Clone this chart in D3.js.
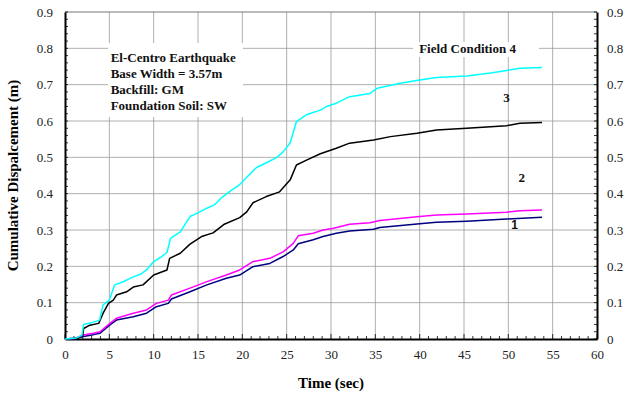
<!DOCTYPE html>
<meta charset="utf-8">
<style>
body { margin: 0; background: #fff; overflow: hidden; }
svg { display: block; }
text { font-family: "Liberation Serif", "Times New Roman", serif; }
.tick text { font-size: 13px; fill: #222; }
.grid line { stroke: #9a9a9a; stroke-width: 0.8; }
.lbl { font-weight: bold; font-size: 13px; fill: #111; }
</style>
<body>
<script src="https://d3js.org/d3.v7.min.js"></script>
<script>

// time (sec) / cumulative displacement (m) for each curve
var cyanT  = [0,1.3,1.9,2.1,3.0,3.9,4.3,5.0,5.6,6.5,7.7,8.5,9.2,10,10.8,11.5,11.9,13,14.1,15,16,16.9,17.7,18.8,19.7,20.5,21.6,22.7,23.9,24.6,25.4,26.1,27.3,28.8,29.5,30.6,32.1,34.4,35.2,37.8,40,41.9,45.3,48,49.8,51.3,53.8];
var cyanV  = [0,0.003,0.01,0.04,0.045,0.052,0.094,0.107,0.149,0.157,0.171,0.178,0.19,0.213,0.225,0.238,0.277,0.295,0.337,0.347,0.36,0.37,0.39,0.41,0.425,0.445,0.472,0.485,0.5,0.515,0.54,0.598,0.618,0.63,0.64,0.649,0.667,0.676,0.69,0.704,0.713,0.72,0.724,0.732,0.739,0.745,0.747];

var blackT = [0,1.5,2.0,2.1,2.8,3.8,4.3,4.9,5.45,5.8,6.95,7.7,8.8,10,11.5,11.8,13,14.1,15.4,16.7,17.9,19.7,20.5,21.2,22.7,24.2,25.4,26.1,27.3,28.8,30.6,32.1,34.8,36.7,39.7,41.9,45.3,49.8,51.3,53.8];
var blackV = [0,0.003,0.01,0.029,0.038,0.043,0.071,0.098,0.107,0.121,0.13,0.143,0.149,0.176,0.19,0.222,0.236,0.261,0.282,0.292,0.315,0.334,0.35,0.375,0.392,0.405,0.438,0.479,0.493,0.51,0.525,0.539,0.548,0.557,0.566,0.575,0.58,0.587,0.594,0.596];

var magT   = [0,1.2,2.07,3.2,3.95,5.07,5.8,7.7,9.2,10.3,11.65,12,14.1,16,18.2,19.7,21.2,23.1,24.6,25.75,26.3,28,29.1,30.3,32.1,34.4,35.5,40,41.9,45.3,49.8,51.3,53.8];
var magV   = [0,0.002,0.011,0.016,0.02,0.043,0.057,0.071,0.08,0.098,0.107,0.121,0.14,0.158,0.176,0.19,0.213,0.222,0.24,0.263,0.284,0.291,0.3,0.305,0.316,0.32,0.326,0.337,0.341,0.344,0.349,0.353,0.355];

var navyT  = [0,1.2,2.07,3.2,3.95,5.07,5.8,7.7,9.2,10.3,11.65,12,14.1,16,18.2,19.7,21.2,23.1,24.6,25.75,26.3,28,29.1,30.6,32.1,34.8,35.5,40,41.9,45.3,49.8,53.8];
var navyV  = [0,0.001,0.007,0.012,0.016,0.039,0.052,0.061,0.071,0.089,0.098,0.11,0.13,0.149,0.167,0.176,0.199,0.208,0.227,0.245,0.262,0.273,0.282,0.291,0.297,0.302,0.307,0.317,0.321,0.324,0.33,0.335];

var xTicks = d3.range(0, 61, 5);
var yTicks = d3.range(0, 0.91, 0.1);

var noteLines = ["El-Centro Earthquake", "Base Width = 3.57m", "Backfill: GM", "Foundation Soil: SW"];

var margin = {top: 12, right: 27, bottom: 59, left: 65},
    width = 624 - margin.left - margin.right,
    height = 398 - margin.top - margin.bottom;

var x = d3.scaleLinear().domain([0, 60]).range([0, width]);
var y = d3.scaleLinear().domain([0, 0.9]).range([height, 0]);

var svg = d3.select("body").append("svg")
    .attr("width", 624)
    .attr("height", 398)
  .append("g")
    .attr("transform", "translate(" + margin.left + "," + margin.top + ")");

// grid
svg.append("g").attr("class", "grid")
  .selectAll("line.v").data(xTicks.slice(1, -1)).enter().append("line")
    .attr("x1", function(d) { return x(d); }).attr("x2", function(d) { return x(d); })
    .attr("y1", 0).attr("y2", height);
svg.append("g").attr("class", "grid")
  .selectAll("line.h").data(yTicks.slice(1, -1)).enter().append("line")
    .attr("x1", 0).attr("x2", width)
    .attr("y1", function(d) { return y(d); }).attr("y2", function(d) { return y(d); });

// white boxes behind the notes
svg.append("rect").attr("x", 43).attr("y", 31).attr("width", 135).attr("height", 74).attr("fill", "#fff");
svg.append("rect").attr("x", 348).attr("y", 30).attr("width", 126).attr("height", 15).attr("fill", "#fff");

// top frame
svg.append("line").attr("x1", 0).attr("x2", width).attr("y1", 0).attr("y2", 0)
  .attr("stroke", "#777").attr("stroke-width", 1);

// minor ticks
var minorX = d3.range(0, 61, 1), minorY = d3.range(0, 0.901, 0.02);
svg.append("g").selectAll("line").data(minorX).enter().append("line")
  .attr("x1", function(d) { return x(d); }).attr("x2", function(d) { return x(d); })
  .attr("y1", height).attr("y2", function(d) { return d % 5 == 0 ? height - 5 : height - 3; })
  .attr("stroke", "#000").attr("stroke-width", 0.8);
[0, width].forEach(function(px, k) {
  svg.append("g").selectAll("line").data(minorY).enter().append("line")
    .attr("y1", function(d) { return y(d); }).attr("y2", function(d) { return y(d); })
    .attr("x1", px).attr("x2", k == 0 ? px + 3 : px - 3)
    .attr("stroke", "#000").attr("stroke-width", 0.8);
});

// axes
function styleAxis(g) {
  g.select(".domain").attr("stroke", "#000").attr("stroke-width", 2);
  g.selectAll(".tick line").remove();
}
var yFmt = function(d) { return d == 0 ? "0" : d3.format(".1f")(d); };
svg.append("g")
    .attr("transform", "translate(0," + height + ")")
    .call(d3.axisBottom(x).tickValues(xTicks).tickSize(0).tickPadding(11))
    .call(styleAxis);
svg.append("g")
    .call(d3.axisLeft(y).tickValues(yTicks).tickSize(0).tickPadding(12).tickFormat(yFmt))
    .call(styleAxis);
svg.append("g")
    .attr("transform", "translate(" + width + ",0)")
    .call(d3.axisRight(y).tickValues(yTicks).tickSize(0).tickPadding(10).tickFormat(yFmt))
    .call(styleAxis);

// curves
var series = [
  {t: navyT, v: navyV, color: "#000080"},
  {t: magT, v: magV, color: "#ff00ff"},
  {t: blackT, v: blackV, color: "#000000"},
  {t: cyanT, v: cyanV, color: "#00ffff"}
];
var line = d3.line()
    .x(function(d) { return x(d[0]); })
    .y(function(d) { return y(d[1]); });
series.forEach(function(s) {
  svg.append("path")
    .datum(d3.zip(s.t, s.v))
    .attr("fill", "none")
    .attr("stroke", s.color)
    .attr("stroke-width", 1.5)
    .attr("stroke-linejoin", "round")
    .attr("d", line);
});

// notes
svg.append("g").selectAll("text").data(noteLines).enter().append("text")
  .attr("class", "lbl")
  .attr("x", x(5.15))
  .attr("y", function(d, i) { return 50 + i * 16; })
  .text(function(d) { return d; });

svg.append("text").attr("class", "lbl").attr("x", x(45.4)).attr("y", 41)
  .attr("text-anchor", "middle").text("Field Condition 4");
svg.append("text").attr("class", "lbl").attr("x", x(49.8)).attr("y", y(0.665) + 5)
  .attr("text-anchor", "middle").text("3");
svg.append("text").attr("class", "lbl").attr("x", x(51.5)).attr("y", y(0.446) + 5)
  .attr("text-anchor", "middle").text("2");
svg.append("text").attr("class", "lbl").attr("x", x(50.7)).attr("y", y(0.317) + 5)
  .attr("text-anchor", "middle").style("font-family", "Liberation Sans").style("font-size", "12px").text("1");

// axis titles
svg.append("text")
  .attr("x", width / 2).attr("y", height + 49)
  .attr("text-anchor", "middle")
  .style("font-weight", "bold").style("font-size", "15px")
  .text("Time (sec)");
svg.append("text")
  .attr("transform", "translate(" + (-47) + "," + (height / 2) + ") rotate(-90)")
  .attr("text-anchor", "middle")
  .style("font-weight", "bold").style("font-size", "15px")
  .text("Cumulative Dispalcement (m)");

</script>
</body>
